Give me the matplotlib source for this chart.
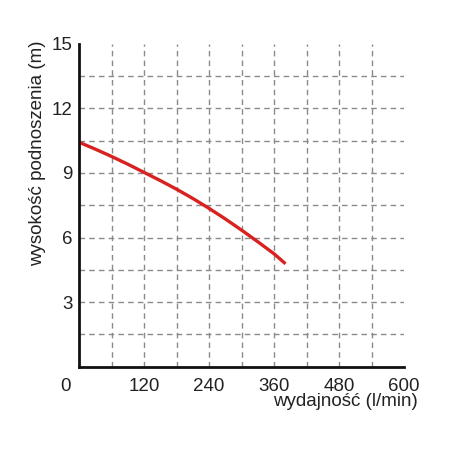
import numpy as np
import matplotlib
matplotlib.use("Agg")
import matplotlib.pyplot as plt
from matplotlib.transforms import ScaledTranslation

plt.rcParams["font.family"] = ["Liberation Sans", "DejaVu Sans"]

# pump curve
flow = [0, 30, 60, 90, 120, 150, 180, 210, 240, 270, 300, 330, 360, 381]
head = [10.42, 10.1, 9.76, 9.4, 9.02, 8.64, 8.24, 7.81, 7.35, 6.86, 6.34, 5.8, 5.24, 4.78]

x_ticks = [0, 120, 240, 360, 480, 600]
y_ticks = [3, 6, 9, 12, 15]
x_grid = [60, 120, 180, 240, 300, 360, 420, 480, 540]
y_grid = [1.5, 3, 4.5, 6, 7.5, 9, 10.5, 12, 13.5]

x_label = "wydajność (l/min)"
y_label = "wysokość podnoszenia (m)"


def main():
    fig = plt.figure(figsize=(4.5, 4.5), dpi=100)
    ax = fig.add_axes([0.176, 0.185, 0.722, 0.718])

    ax.plot(flow, head, color="#d9211f", lw=2.4, solid_capstyle="butt")

    ax.set_xlim(0, 600)
    ax.set_ylim(0, 15)
    ax.set_xticks(x_ticks)
    ax.set_xticklabels([str(v) for v in x_ticks])
    ax.set_yticks(y_ticks)
    ax.set_yticklabels([str(v) for v in y_ticks])
    ax.set_xticks(x_grid, minor=True)
    ax.set_yticks(y_grid, minor=True)
    ax.xaxis.remove_overlapping_locs = False
    ax.yaxis.remove_overlapping_locs = False

    ax.grid(False, which="major")
    ax.grid(True, which="minor", color="#8a8a8a", ls=(0, (4, 3)), lw=1.0)
    ax.tick_params(which="both", length=0)
    ax.tick_params(axis="x", pad=8, labelsize=13.5, labelcolor="#222222")
    ax.tick_params(axis="y", pad=5, labelsize=13.5, labelcolor="#222222")

    # the "0" sits left of the corner
    lbl0 = ax.get_xticklabels()[0]
    lbl0.set_transform(lbl0.get_transform() + ScaledTranslation(-10 / 72, 0, fig.dpi_scale_trans))

    for side in ["top", "right"]:
        ax.spines[side].set_visible(False)
    for side in ["left", "bottom"]:
        ax.spines[side].set_linewidth(2.0)
        ax.spines[side].set_color("#111111")

    fig.text(0.929, 0.107, x_label, ha="right", va="center", fontsize=13.5, color="#222222")
    fig.text(0.084, 0.911, y_label, ha="center", va="top", rotation=90, fontsize=13.5, color="#222222")

    fig.savefig("out.png", dpi=100)


if __name__ == "__main__":
    main()
